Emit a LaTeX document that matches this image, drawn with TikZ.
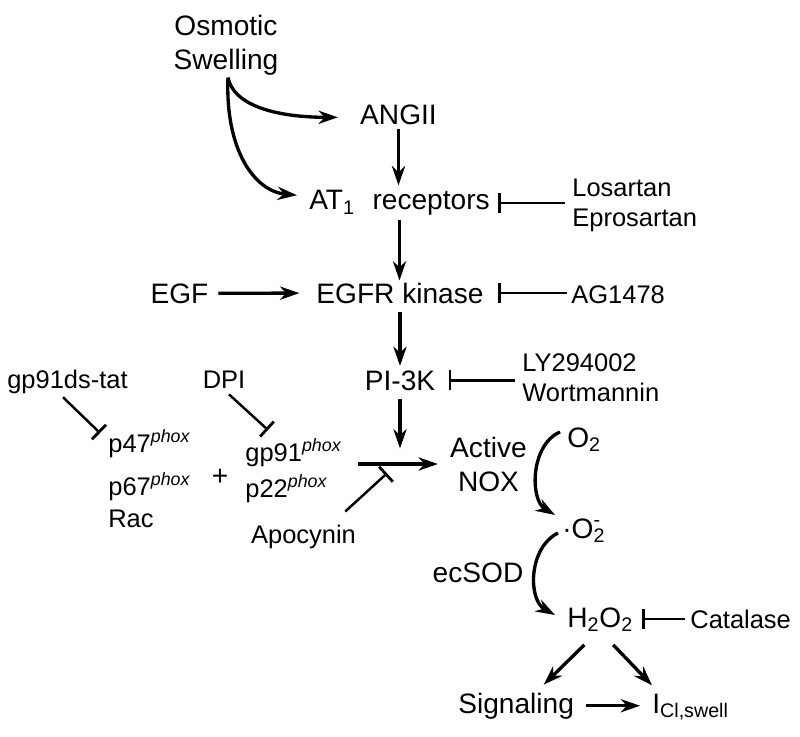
\documentclass[tikz,border=0pt]{standalone}
\usepackage{fontspec}
\setmainfont{Liberation Sans}
\usetikzlibrary{arrows.meta,calc}

\newcommand{\bigtxt}{\fontsize{16}{19.5}\selectfont}
\newcommand{\smalltxt}{\fontsize{14.5}{17}\selectfont}
\newcommand{\phox}{\textsuperscript{\itshape phox}}

\begin{document}
\begin{tikzpicture}[x=0.02cm, y=-0.02cm,
    lab/.style={inner sep=0pt, font=\bigtxt},
    drug/.style={inner sep=0pt, font=\smalltxt},
    act/.style={-{Stealth[length=11pt,width=7.5pt,inset=3.5pt]}, line width=1.9pt},
    inh/.style={-{Bar[width=11.5pt,line width=1.6pt]}, line width=1.4pt}]
    \useasboundingbox (0,0) rectangle (800,736);

    % Main pathway
    \node[lab, align=center] (osm) at (226,45) {Osmotic\\Swelling};
    \node[lab, anchor=base] (angii) at (398.5,125) {ANGII};
    \node[lab, anchor=base] (at1) at (399.5,210) {AT\textsubscript{1}\hspace{10pt}receptors};
    \node[lab, anchor=base] (egf) at (179.5,303) {EGF};
    \node[lab, anchor=base] (egfr) at (400,303) {EGFR kinase};
    \node[lab, anchor=base] (pi3k) at (400,390) {PI-3K};
    \node[lab, align=center] (nox) at (488.5,464.3) {Active\\NOX};

    % Inhibitors on the right
    \node[drug, align=left, anchor=west] (los) at (572,205.5) {Losartan\\Eprosartan};
    \node[drug, anchor=base west] (ag) at (571,303) {AG1478};
    \node[drug, align=left, anchor=west] (ly) at (522,377.4) {LY294002\\Wortmannin};

    % NOX subunits
    \node[drug, anchor=base] (gptat) at (67.5,388) {gp91ds-tat};
    \node[drug, anchor=base] (dpi) at (224,388) {DPI};
    \node[drug, anchor=base west] (p47) at (108,452) {p47\phox};
    \node[drug, anchor=base west] (p67) at (108,495) {p67\phox};
    \node[drug, anchor=base west] (rac) at (108,527) {Rac};
    \node[lab] (plus) at (220,477) {+};
    \node[drug, anchor=base west] (gp91) at (245,461) {gp91\phox};
    \node[drug, anchor=base west] (p22) at (245,497) {p22\phox};
    \node[drug, anchor=base] (apo) at (303.5,543) {Apocynin};

    % Oxygen species
    \node[lab, anchor=base west] (otwo) at (567,447) {O\textsubscript{2}};
    \node[lab, anchor=base west] (sup) at (562,538) {·O\rlap{\textsuperscript{-}}\textsubscript{2}};
    \node[lab, anchor=base] (sod) at (478,582) {ecSOD};
    \node[lab, anchor=base west] (hto) at (567,627) {H\textsubscript{2}O\textsubscript{2}};
    \node[drug, anchor=base west] (cat) at (690,628) {Catalase};
    \node[lab, anchor=base west] (signal) at (458,713) {Signaling};
    \node[lab, anchor=base west] (icl) at (652,713) {I\textsubscript{Cl,swell}};

    % Junction in front of NOX
    \coordinate (mixin) at (358,464);
    \coordinate (mix) at (pi3k.south |- nox.west);

    % Swelling arrows
    \draw[act] ($(osm.south)+(2,2)$) .. controls +(7,33) and +(-48,0) .. ($(angii.west)+(-22,2)$);
    \draw[act] ($(osm.south)+(2,2)$) .. controls +(-3,73) and +(-42,-4) .. ($(at1.west)+(-12,-8)$);

    % Down the pathway
    \draw[act, shorten <=1.7pt, shorten >=2.8pt] (angii.south) -- (angii.south |- at1.north);
    \draw[act, shorten <=2.3pt, shorten >=1pt] (at1.south) -- (at1.south |- egfr.north);
    \draw[act, shorten <=5.5pt, shorten >=9.5pt] (egf) -- (egfr);
    \draw[act, shorten <=4.5pt, shorten >=2.3pt] (egfr.south) -- (egfr.south |- pi3k.north);
    \draw[act, shorten <=4.5pt, shorten >=9pt] (pi3k.south) -- (mix);
    \draw[act, shorten >=6.8pt] (mixin) -- (mixin -| nox.west);

    % Blockers
    \draw[inh, shorten <=4pt, shorten >=4.5pt] (los.west |- at1.east) -- (at1.east);
    \draw[inh, shorten <=2.3pt, shorten >=8pt] (ag.west |- egfr.east) -- (egfr.east);
    \draw[inh, shorten <=4pt, shorten >=7.4pt] (ly.west |- pi3k.east) -- (pi3k.east);
    \draw[inh] ($(gptat.south)+(-4.5,3.6)$) -- ($(p47.base west)+(-8,-19)$);
    \draw[inh] ($(dpi.south)+(5,6)$) -- ($(gp91.base west)+(23,-31)$);
    \draw[inh] ($(apo.north east)+(-11,-12.7)$) -- ($(mix)+(-13,9)$);
    \draw[inh, shorten <=2.8pt, shorten >=5pt] (cat.west) -- (hto.east |- cat.west);

    % Superoxide and peroxide
    \draw[act] ($(otwo.base west)+(-7,-15)$) .. controls +(-30,13) and +(-25,-15) .. ($(sup.base west)+(-7,-23)$);
    \draw[act] ($(sup.base west)+(-4,-5)$) .. controls +(-30,15) and +(-27,-15) .. ($(hto.base west)+(-12,-12)$);

    % Outputs
    \draw[act] ($(hto.south)+(-16,13)$) -- ($(signal.north)+(27.5,-7.6)$);
    \draw[act] ($(hto.south)+(13,13)$) -- ($(icl.north west)+(0,-8)$);
    \draw[act, shorten <=6.8pt, shorten >=6.8pt] (signal.east) -- (signal.east -| icl.west);
\end{tikzpicture}
\end{document}
